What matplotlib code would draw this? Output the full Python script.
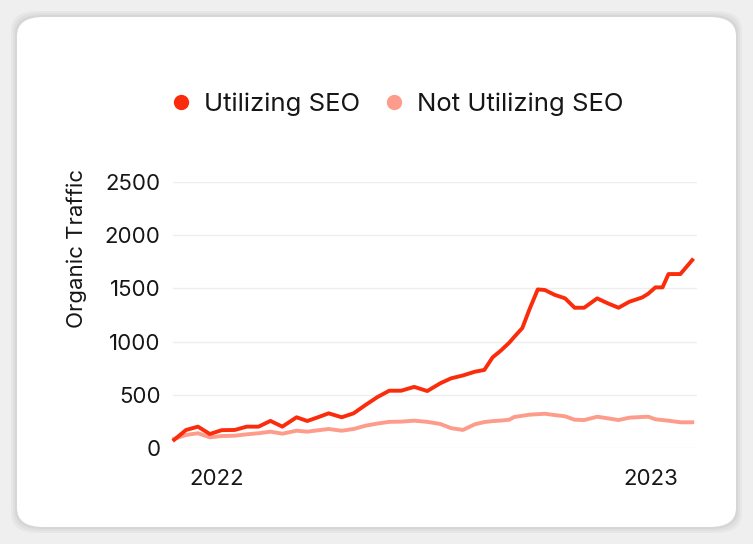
import matplotlib.pyplot as plt
from matplotlib.lines import Line2D
from matplotlib.patches import FancyBboxPatch
import pandas as pd

# dates (points are not evenly spaced)
dates = [
    "2021-11-26", "2021-12-06", "2021-12-16", "2021-12-26", "2022-01-05",
    "2022-01-16", "2022-01-26", "2022-02-05", "2022-02-15", "2022-02-25",
    "2022-03-09", "2022-03-18", "2022-03-27", "2022-04-05", "2022-04-16",
    "2022-04-26", "2022-05-06", "2022-05-16", "2022-05-26", "2022-06-05",
    "2022-06-16", "2022-06-27", "2022-07-08", "2022-07-17", "2022-07-27",
    "2022-08-06", "2022-08-14", "2022-08-21", "2022-08-28", "2022-09-04",
    "2022-09-08", "2022-09-15", "2022-09-21", "2022-09-28", "2022-10-04",
    "2022-10-12", "2022-10-21", "2022-10-29", "2022-11-06", "2022-11-17",
    "2022-11-26", "2022-12-05", "2022-12-14", "2022-12-25", "2022-12-30",
    "2023-01-05", "2023-01-11", "2023-01-16", "2023-01-26", "2023-02-05",
]

seo = [
    80, 172, 203, 134, 170, 172, 203, 203, 257, 203,
    291, 256, 291, 328, 291, 328, 406, 480, 540, 540,
    576, 537, 610, 656, 683, 718, 735, 853, 917, 991,
    1042, 1128, 1303, 1490, 1484, 1440, 1406, 1318, 1318, 1406,
    1359, 1318, 1374, 1415, 1450, 1509, 1509, 1634, 1634, 1765,
]

no_seo = [
    88, 125, 141, 103, 115, 118, 131, 141, 156, 137,
    165, 156, 169, 181, 165, 181, 212, 232, 248, 250,
    259, 248, 228, 189, 172, 225, 246, 255, 260, 268,
    293, 305, 315, 320, 324, 312, 300, 268, 265, 296,
    281, 265, 287, 294, 296, 272, 265, 259, 244, 244,
]

series_names = ["Utilizing SEO", "Not Utilizing SEO"]
y_ticks = [0, 500, 1000, 1500, 2000, 2500]
x_ticks = ["2022-01-01", "2023-01-01"]
x_tick_labels = ["2022", "2023"]

red = "#fb2c0c"
pink = "#fd9c8b"
txt = "#161616"

plt.rcParams['font.family'] = ['Inter', 'DejaVu Sans']

x = pd.to_datetime(dates)

fig = plt.figure(figsize=(7.53, 5.44), dpi=100)
fig.patch.set_facecolor("#efefef")

# card with soft shadow, kept behind the axes
for i, a in enumerate([0.03, 0.03, 0.04]):
    d = (3 - i) * 2
    sh = FancyBboxPatch((17 / 753 - d / 753, 17 / 544 - d / 544),
                        719 / 753 + 2 * d / 753, 510 / 544 + 2 * d / 544,
                        boxstyle="round,pad=0,rounding_size=0.035",
                        transform=fig.transFigure, facecolor="black",
                        edgecolor="none", alpha=a, zorder=-3)
    fig.patches.append(sh)
card = FancyBboxPatch((17 / 753, 17 / 544), 719 / 753, 510 / 544,
                      boxstyle="round,pad=0,rounding_size=0.035",
                      transform=fig.transFigure, facecolor="white",
                      edgecolor="none", zorder=-2)
fig.patches.append(card)

ax = fig.add_axes([173 / 753, 1 - 448.3 / 544, 524 / 753, 266.6 / 544])
ax.set_facecolor("none")

ax.plot(x, no_seo, color=pink, lw=2.8, clip_on=False, zorder=3)
ax.plot(x, seo, color=red, lw=2.8, clip_on=False, zorder=4)

ax.set_ylim(0, 2500)
ax.set_xlim(pd.Timestamp("2021-11-25"), pd.Timestamp("2023-02-09"))
ax.set_yticks(y_ticks)
ax.set_xticks(pd.to_datetime(x_ticks))
ax.set_xticklabels(x_tick_labels)
ax.grid(axis="y", color="#eeeef0", lw=1)
ax.set_axisbelow(True)
for s in ax.spines.values():
    s.set_visible(False)
ax.tick_params(axis="both", length=0, labelsize=16, colors=txt)
ax.tick_params(axis="y", pad=9)
ax.tick_params(axis="x", pad=15)

fig.text(77 / 753, 1 - 249 / 544, "Organic Traffic", rotation=90,
         ha="center", va="center", fontsize=16, color=txt)

handles = [Line2D([], [], marker="o", ls="", markersize=10, color=red),
           Line2D([], [], marker="o", ls="", markersize=10, color=pink)]
fig.legend(handles, series_names, loc="center", ncol=2,
           bbox_to_anchor=(396 / 753, 1 - 104 / 544), frameon=False,
           fontsize=18.5, handlelength=1.0, handletextpad=0.4,
           columnspacing=0.8, labelcolor=txt)

fig.savefig("out.png", dpi=100, facecolor=fig.get_facecolor())
